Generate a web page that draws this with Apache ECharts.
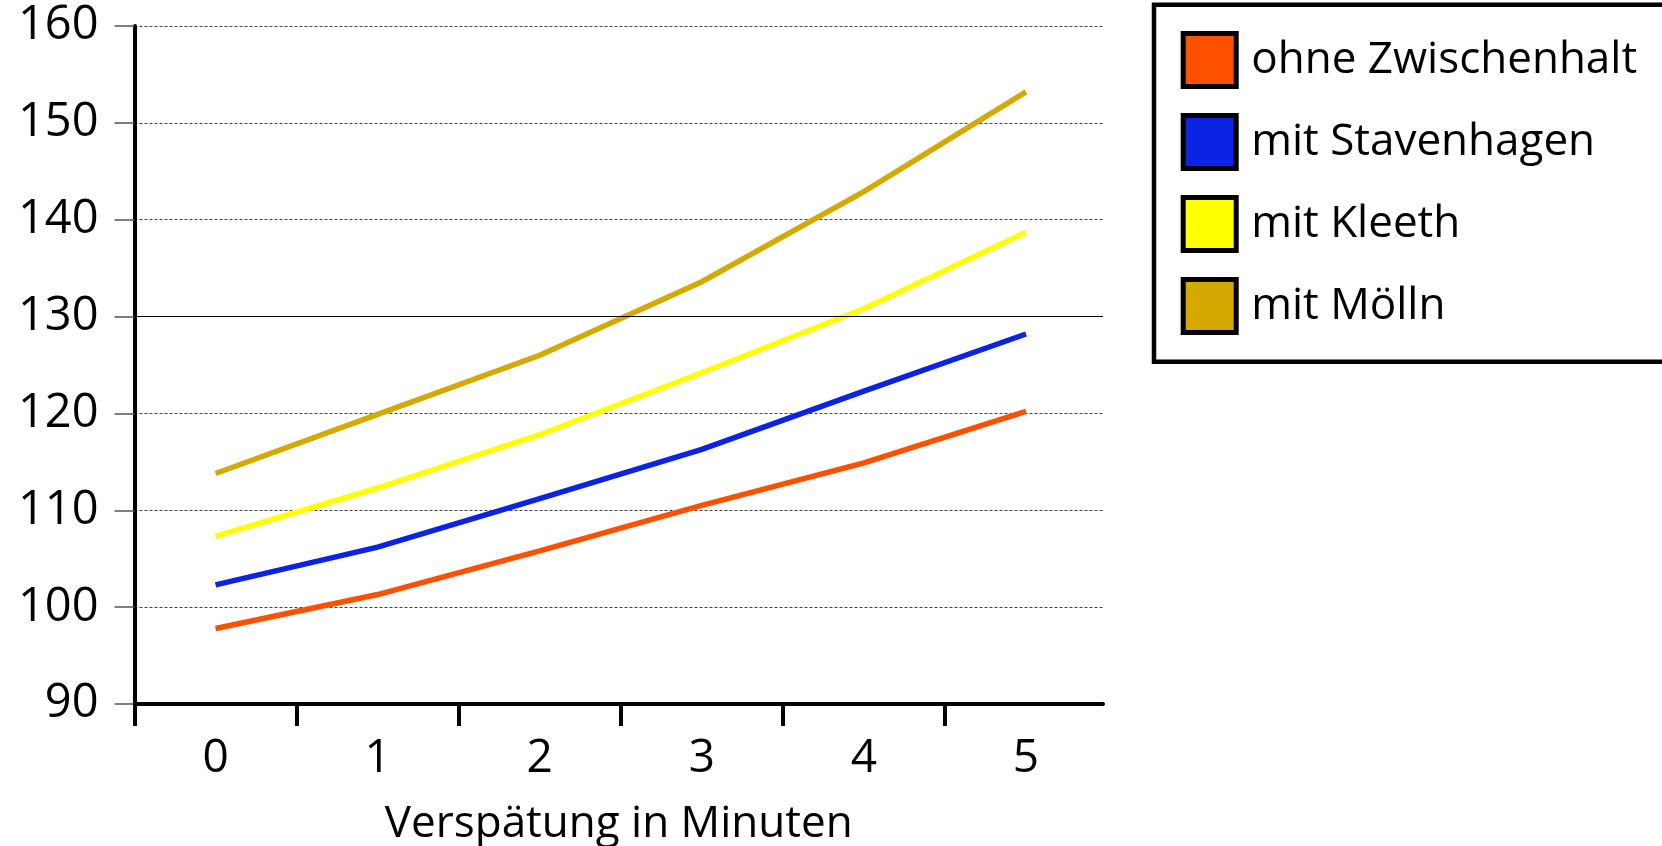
<!DOCTYPE html>
<html>
<head>
<meta charset="utf-8">
<style>
  html, body { margin: 0; padding: 0; background: #fff; overflow: hidden; }
  #chart { width: 1662px; height: 846px; }
</style>
<script src="https://cdn.jsdelivr.net/npm/echarts@6/dist/echarts.min.js"></script>
</head>
<body>
<div id="chart"></div>
<script>
// ---- data ----
const categories = ['0', '1', '2', '3', '4', '5'];
const seriesNames = ['ohne Zwischenhalt', 'mit Stavenhagen', 'mit Kleeth', 'mit Mölln'];
const ohneZwischenhalt = [97.8, 101.3, 105.8, 110.5, 114.9, 120.2];
const mitStavenhagen   = [102.3, 106.2, 111.2, 116.3, 122.3, 128.2];
const mitKleeth        = [107.3, 112.3, 117.8, 124.2, 130.8, 138.7];
const mitMoelln        = [113.8, 119.9, 126.0, 133.6, 142.9, 153.2];
const yTicks = [90, 100, 110, 120, 130, 140, 150, 160];
const categoryBoundaries = [-0.5, 0.5, 1.5, 2.5, 3.5, 4.5];
const solidGridValue = 130;
const axisTitle = 'Verspätung in Minuten';

// ---- styles ----
const colors = ['#FF5000', '#0B24E3', '#FFFF00', '#D5A900'];
const FONT = '"Open Sans", "Noto Sans", sans-serif';
const X_MIN = -0.5, X_MAX = 5.475;

const allValues = [ohneZwischenhalt, mitStavenhagen, mitKleeth, mitMoelln];
const catIndex = categories.map((c, i) => i);

const series = allValues.map((vals, si) => ({
  name: seriesNames[si],
  type: 'line',
  data: vals.map((v, i) => [catIndex[i], v]),
  color: colors[si],
  showSymbol: false,
  symbol: 'none',
  lineStyle: { width: 5.5, color: colors[si], cap: 'butt', join: 'miter' },
  z: 3
}));

series.push({
  name: '_grid130',
  type: 'line',
  data: [],
  silent: true,
  z: 1,
  markLine: {
    silent: true,
    symbol: ['none', 'none'],
    label: { show: false },
    lineStyle: { type: 'solid', color: '#000', width: 1 },
    data: [{ yAxis: solidGridValue }],
    animation: false
  }
});

const chart = echarts.init(document.getElementById('chart'), null, { renderer: 'canvas' });
chart.setOption({
  animation: false,
  backgroundColor: '#fff',
  textStyle: { fontFamily: FONT },
  grid: { left: 134.5, right: 559, top: 26, bottom: 142, containLabel: false, outerBoundsMode: 'none' },
  legend: {
    data: seriesNames,
    orient: 'vertical',
    left: 1154,
    top: 4.7,
    icon: 'rect',
    itemWidth: 53,
    itemHeight: 53,
    itemGap: 24,
    padding: [26.3, 40, 26.7, 26.7],
    borderColor: '#000',
    borderWidth: 4.5,
    backgroundColor: '#fff',
    itemStyle: { borderColor: '#000', borderWidth: 5 },
    textStyle: { fontFamily: FONT, fontSize: 44, lineHeight: 14, color: '#000', padding: [22, 0, 0, 10] },
    selectedMode: false
  },
  xAxis: {
    type: 'value',
    min: X_MIN,
    max: X_MAX,
    name: axisTitle,
    nameLocation: 'middle',
    nameGap: 98,
    nameTextStyle: { fontFamily: FONT, fontSize: 44, lineHeight: 44, color: '#000' },
    axisLine: { show: true, onZero: false, lineStyle: { color: '#000', width: 4 } },
    axisTick: { show: true, length: 22, customValues: categoryBoundaries, lineStyle: { color: '#000', width: 4 } },
    axisLabel: {
      customValues: catIndex,
      formatter: v => categories[Math.round(v)],
      fontFamily: FONT, fontSize: 46, lineHeight: 46, color: '#000', margin: 32
    },
    splitLine: { show: false }
  },
  yAxis: {
    type: 'value',
    min: yTicks[0],
    max: yTicks[yTicks.length - 1],
    interval: 10,
    axisLine: { show: true, onZero: false, lineStyle: { color: '#000', width: 4 } },
    axisTick: { show: true, length: 20, lineStyle: { color: '#555', width: 1.5 } },
    axisLabel: { fontFamily: FONT, fontSize: 47, lineHeight: 47, color: '#000', margin: 36, padding: [17, 0, 0, 0] },
    splitLine: { show: true, lineStyle: { type: [3, 2], color: '#444', width: 1 } }
  },
  series: series
});
</script>
</body>
</html>
